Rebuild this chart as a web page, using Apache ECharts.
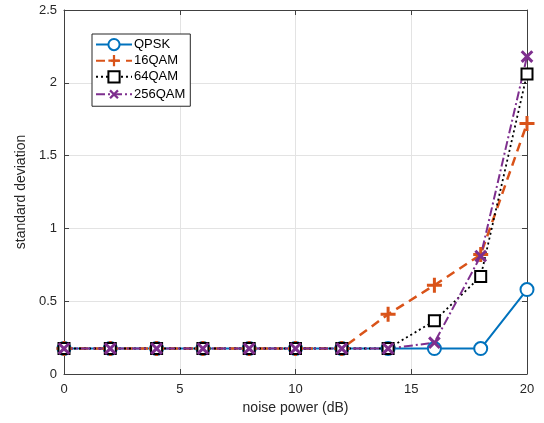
<!DOCTYPE html>
<html>
<head>
<meta charset="utf-8">
<script src="https://cdn.jsdelivr.net/npm/echarts@6/dist/echarts.min.js"></script>
<style>
  html, body { margin: 0; padding: 0; background: #fff; }
  #chart { width: 544px; height: 423px; }
</style>
</head>
<body>
<div id="chart"></div>
<script>
// noise power in dB
const noisePower = [0, 2, 4, 6, 8, 10, 12, 14, 16, 18, 20]
const qpsk = [0.175, 0.175, 0.175, 0.175, 0.175, 0.175, 0.175, 0.175, 0.175, 0.175, 0.58]
const qam16 = [0.175, 0.175, 0.175, 0.175, 0.175, 0.175, 0.175, 0.41, 0.61, 0.82, 1.72]
const qam64 = [0.175, 0.175, 0.175, 0.175, 0.175, 0.175, 0.175, 0.175, 0.365, 0.67, 2.06]
const qam256 = [0.175, 0.175, 0.175, 0.175, 0.175, 0.175, 0.175, 0.175, 0.215, 0.81, 2.18]

const plusPath = 'path://M4,0 L6,0 L6,4 L10,4 L10,6 L6,6 L6,10 L4,10 L4,6 L0,6 L0,4 L4,4 Z'
const axisColor = '#404040'
const font = 'Liberation Sans'

function pairs(ys) {
  return noisePower.map((x, i) => [x, ys[i]])
}

const chart = echarts.init(document.getElementById('chart'))

// top / right axes only close the box (matlab "box on")
const boxAxis = {
  axisLine: { show: true, onZero: false, lineStyle: { color: axisColor, width: 1 } },
  axisTick: { show: true, inside: true, length: 5, lineStyle: { color: axisColor } },
  axisLabel: { show: false },
  splitLine: { show: false }
}

chart.setOption({
  animation: false,
  backgroundColor: '#fff',
  grid: { left: 64, right: 17, top: 10, bottom: 49 },
  xAxis: [
    {
      type: 'value', min: 0, max: 20, interval: 5,
      name: 'noise power (dB)', nameLocation: 'middle', nameGap: 26,
      nameTextStyle: { fontFamily: font, fontSize: 14, color: '#262626' },
      axisLine: { show: true, onZero: false, lineStyle: { color: axisColor, width: 1 } },
      axisTick: { show: true, inside: true, length: 5, lineStyle: { color: axisColor } },
      axisLabel: { fontFamily: font, fontSize: 13, color: '#262626', margin: 9 },
      splitLine: { show: true, lineStyle: { color: '#e3e3e3', width: 1 } }
    },
    Object.assign({ type: 'value', min: 0, max: 20, interval: 5, position: 'top' }, boxAxis)
  ],
  yAxis: [
    {
      type: 'value', min: 0, max: 2.5, interval: 0.5,
      name: 'standard deviation', nameLocation: 'middle', nameGap: 33,
      nameTextStyle: { fontFamily: font, fontSize: 14, color: '#262626' },
      axisLine: { show: true, onZero: false, lineStyle: { color: axisColor, width: 1 } },
      axisTick: { show: true, inside: true, length: 5, lineStyle: { color: axisColor } },
      axisLabel: { fontFamily: font, fontSize: 13, color: '#262626', margin: 7 },
      splitLine: { show: true, lineStyle: { color: '#e3e3e3', width: 1 } }
    },
    Object.assign({ type: 'value', min: 0, max: 2.5, interval: 0.5, position: 'right' }, boxAxis)
  ],
  legend: {
    left: 92, top: 34,
    orient: 'vertical',
    backgroundColor: '#fff',
    borderColor: '#262626',
    borderWidth: 1,
    padding: [4, 5, 4, 3],
    itemGap: 3,
    itemWidth: 36,
    itemHeight: 14,
    textStyle: { fontFamily: font, fontSize: 13, color: '#000', padding: [0, 0, 0, -3] },
    data: ['QPSK', '16QAM', '64QAM', '256QAM']
  },
  series: [
    {
      name: 'QPSK', type: 'line', data: pairs(qpsk),
      symbol: 'emptyCircle', symbolSize: 13,
      lineStyle: { color: '#0072BD', width: 2 },
      itemStyle: { color: '#0072BD', borderWidth: 2 }
    },
    {
      name: '16QAM', type: 'line', data: pairs(qam16),
      symbol: plusPath, symbolSize: 15,
      lineStyle: { color: '#D95319', width: 2.5, type: [9, 6] },
      itemStyle: { color: '#D95319' }
    },
    {
      name: '64QAM', type: 'line', data: pairs(qam64),
      symbol: 'emptyRect', symbolSize: 11,
      lineStyle: { color: '#000', width: 1.8, type: [2, 3] },
      itemStyle: { color: '#000', borderWidth: 2 }
    },
    {
      name: '256QAM', type: 'line', data: pairs(qam256),
      symbol: plusPath, symbolSize: 15, symbolRotate: 45,
      lineStyle: { color: '#7E2F8E', width: 2, type: [9, 3, 2, 3] },
      itemStyle: { color: '#7E2F8E' }
    }
  ]
})
</script>
</body>
</html>
